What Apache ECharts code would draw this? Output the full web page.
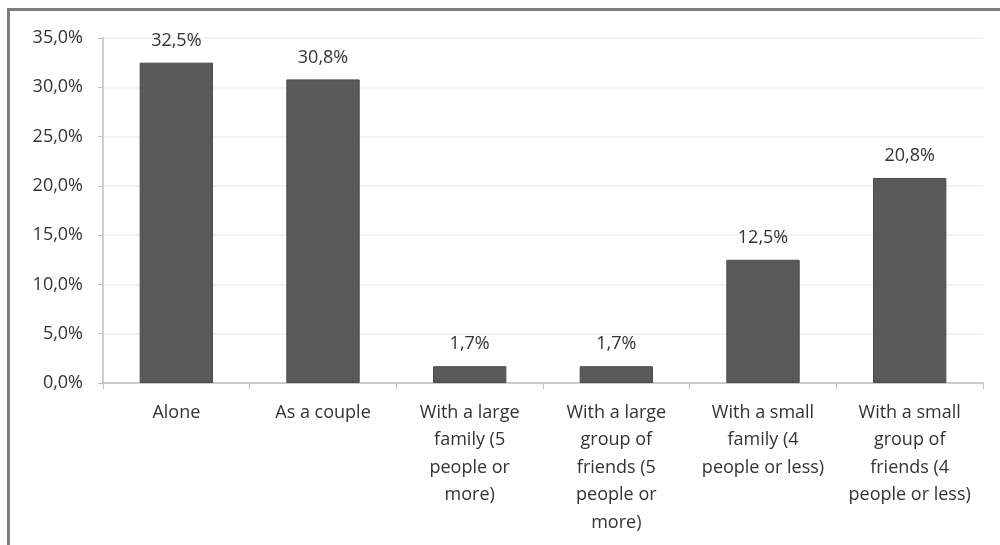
<!DOCTYPE html>
<html>
<head>
<meta charset="utf-8">
<script src="https://cdn.jsdelivr.net/npm/echarts@6/dist/echarts.min.js"></script>
<style>
  html, body { margin: 0; padding: 0; background: #fff; }
  #wrap { position: relative; width: 1000px; height: 545px; }
  #chart { width: 1000px; height: 545px; }
  /* frame line, only top and left are visible in the picture */
  #frame {
    position: absolute; left: 7px; top: 8px; right: -10px; bottom: -10px;
    border-top: 3px solid #7f7f7f; border-left: 3px solid #7f7f7f;
    pointer-events: none;
  }
</style>
</head>
<body>
<div id="wrap">
  <div id="chart"></div>
  <div id="frame"></div>
</div>
<script>
// categories (with the line breaks used in the picture)
const categories = [
  "Alone",
  "As a couple",
  "With a large\nfamily (5\npeople or\nmore)",
  "With a large\ngroup of\nfriends (5\npeople or\nmore)",
  "With a small\nfamily (4\npeople or less)",
  "With a small\ngroup of\nfriends (4\npeople or less)"
];
// share of respondents, in percent
const shares = [32.5, 30.8, 1.7, 1.7, 12.5, 20.8];

const fmt = v => v.toFixed(1).replace(".", ",") + "%";
const textColor = "#333333";
const fontFamily = "'Open Sans', Lato, sans-serif";

const chart = echarts.init(document.getElementById("chart"));
chart.setOption({
  animation: false,
  grid: { left: 103, right: 17, top: 38, bottom: 162 },
  xAxis: {
    type: "category",
    data: categories,
    axisLine: { lineStyle: { color: "#bfbfbf", width: 1.5 } },
    axisTick: { show: true, length: 6, lineStyle: { color: "#bfbfbf" } },
    axisLabel: {
      color: textColor, fontSize: 18, fontFamily: fontFamily,
      lineHeight: 27.5, margin: 16, interval: 0
    }
  },
  yAxis: {
    type: "value",
    min: 0, max: 35, interval: 5,
    axisLine: { show: true, lineStyle: { color: "#bfbfbf", width: 1.5 } },
    axisTick: { show: true, length: 5, lineStyle: { color: "#bfbfbf" } },
    splitLine: { lineStyle: { color: "#efefef", width: 1.5 } },
    axisLabel: {
      color: textColor, fontSize: 18, fontFamily: fontFamily, margin: 20,
      formatter: v => fmt(v)
    }
  },
  series: [{
    type: "bar",
    data: shares,
    barWidth: "50%",
    itemStyle: { color: "#595959", borderColor: "#4a4a4a", borderWidth: 1 },
    label: {
      show: true, position: "top", distance: 13,
      color: textColor, fontSize: 18, fontFamily: fontFamily,
      formatter: p => fmt(p.value)
    }
  }]
});
</script>
</body>
</html>
